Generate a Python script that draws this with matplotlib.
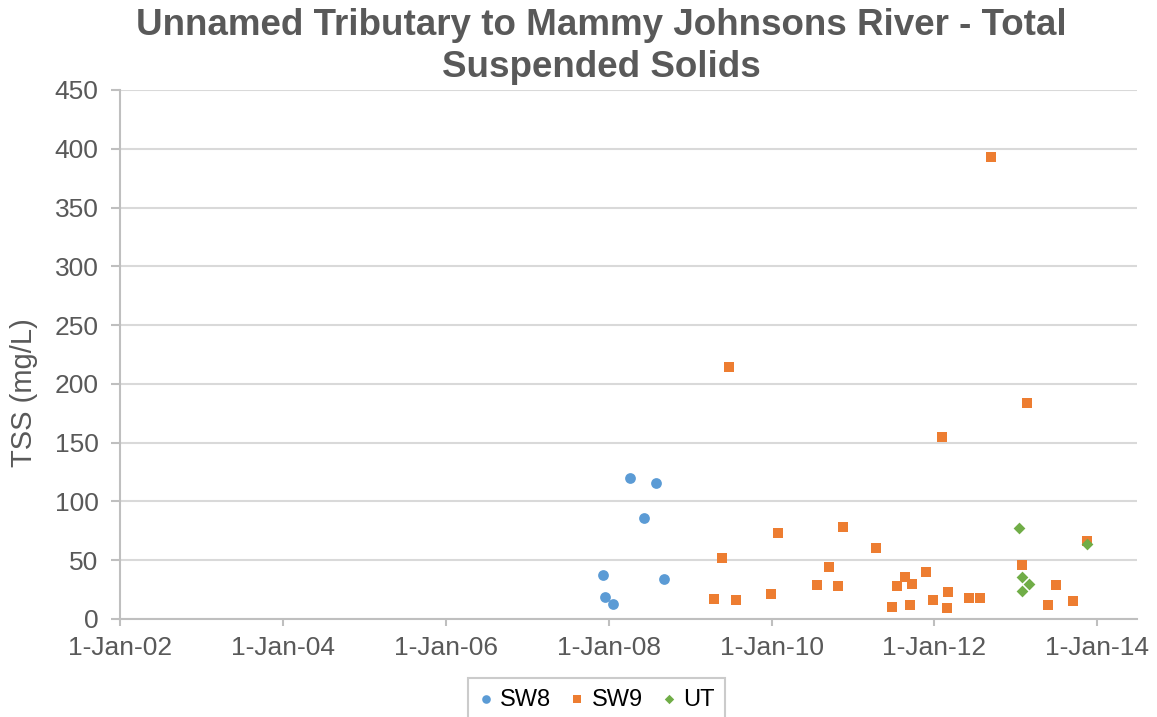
import matplotlib
matplotlib.use("Agg")
import matplotlib.pyplot as plt
import matplotlib.dates as mdates
import pandas as pd

plt.rcParams['font.family'] = ['Liberation Sans', 'DejaVu Sans']

# TSS samples (mg/L) per monitoring site
sw8_dates = ["2007-12-09", "2007-12-16", "2008-01-19", "2008-04-08",
             "2008-06-06", "2008-07-30", "2008-09-05"]
sw8_tss = [37, 19, 12.5, 120, 86, 116, 34]

sw9_dates = ["2009-04-20", "2009-05-22", "2009-06-24", "2009-07-27",
             "2009-12-28", "2010-01-30", "2010-07-23", "2010-09-16",
             "2010-10-26", "2010-11-17", "2011-04-16", "2011-06-24",
             "2011-07-19", "2011-08-22", "2011-09-13", "2011-09-24",
             "2011-11-24", "2011-12-28", "2012-02-03", "2012-02-28",
             "2012-03-03", "2012-06-06", "2012-07-23", "2012-09-13",
             "2013-01-30", "2013-02-21", "2013-05-27", "2013-06-29",
             "2013-09-13", "2013-11-18"]
sw9_tss = [17, 52, 214, 16,
           21, 73, 29, 44,
           28, 78, 60, 10,
           28, 36, 12, 30,
           40, 16, 155, 9,
           23, 18, 18, 393,
           46, 184, 12, 29,
           15, 66]

ut_dates = ["2013-01-15", "2013-01-30", "2013-01-30", "2013-03-01", "2013-11-18"]
ut_tss = [77, 36, 24, 30, 64]

tick_dates = ["2002-01-01", "2004-01-01", "2006-01-01", "2008-01-01",
              "2010-01-01", "2012-01-01", "2014-01-01"]

grey = '#595959'
axis_grey = '#BFBFBF'

fig = plt.figure(figsize=(11.57, 7.17), dpi=100)
ax = fig.add_axes([0.1037, 0.1367, 0.8790, 0.7378])

ax.scatter(pd.to_datetime(sw8_dates), sw8_tss, s=60, marker='o',
           color='#5B9BD5', label='SW8', zorder=3, linewidths=0)
ax.scatter(pd.to_datetime(sw9_dates), sw9_tss, s=52, marker='s',
           color='#ED7D31', label='SW9', zorder=3, linewidths=0)
ax.scatter(pd.to_datetime(ut_dates), ut_tss, s=36, marker='D',
           color='#70AD47', label='UT', zorder=4, linewidths=0)

ax.set_xlim(pd.Timestamp("2002-01-01"), pd.Timestamp("2014-06-28"))
ax.set_ylim(0, 450)
ax.set_yticks(range(0, 451, 50))
ax.set_xticks(pd.to_datetime(tick_dates))
ax.xaxis.set_major_formatter(
    plt.FuncFormatter(lambda v, p: (lambda d: f"{d.day}-{d:%b-%y}")(mdates.num2date(v))))

ax.grid(axis='y', color='#D9D9D9', linewidth=1.5)
ax.set_axisbelow(True)
for side in ['top', 'right']:
    ax.spines[side].set_visible(False)
for side in ['bottom', 'left']:
    ax.spines[side].set_color(axis_grey)
    ax.spines[side].set_linewidth(1.5)
ax.tick_params(axis='x', colors=axis_grey, length=5, width=1.5,
               labelcolor=grey, labelsize=19, pad=7)
ax.tick_params(axis='y', colors=axis_grey, length=6.5, width=1.5,
               labelcolor=grey, labelsize=19, pad=9)

ax.set_ylabel('TSS (mg/L)', fontsize=21, color=grey)
ax.yaxis.set_label_coords(-0.081, 0.427)

fig.text(0.5195, 0.989, 'Unnamed Tributary to Mammy Johnsons River - Total\nSuspended Solids',
         ha='center', va='top', fontsize=26.5, fontweight='bold', color=grey,
         linespacing=1.25)

leg = ax.legend(loc='upper center', bbox_to_anchor=(0.5156, 0.0544),
                bbox_transform=fig.transFigure, ncol=3, frameon=True,
                fancybox=False, fontsize=17, handlelength=0.6,
                handletextpad=0.3, columnspacing=0.8, borderpad=0.45,
                markerscale=0.8, borderaxespad=0)
leg.get_frame().set_edgecolor(axis_grey)
leg.get_frame().set_linewidth(1.5)

fig.savefig('out.png', dpi=100)
